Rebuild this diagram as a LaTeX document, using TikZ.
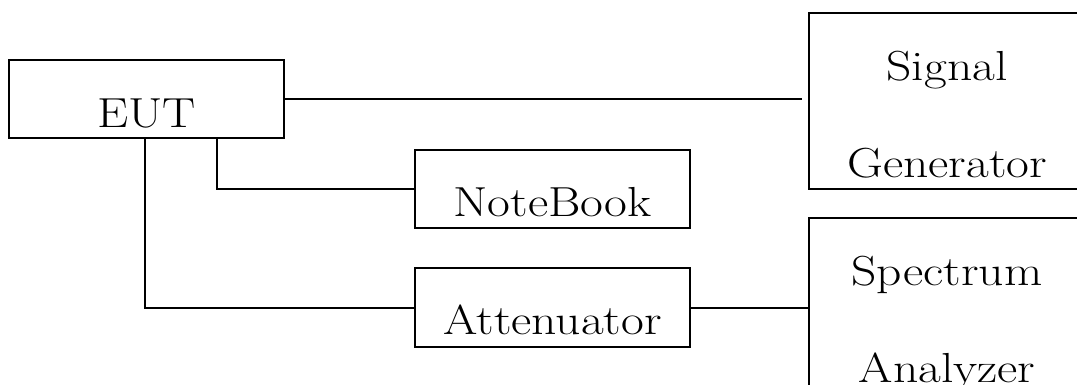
\documentclass[tikz,border=0pt]{standalone}
\usepackage{fontspec}
\setmainfont{Latin Modern Roman}[FakeStretch=1.18]
\usetikzlibrary{calc}
\pgfdeclarelayer{edgelayer}
\pgfdeclarelayer{nodelayer}
\pgfsetlayers{edgelayer,nodelayer,main}
\tikzstyle{box}=[draw, line width=1pt, inner sep=0pt, minimum width=137.5pt, align=center, font=\fontsize{21}{48.5}\selectfont]
\tikzstyle{wire}=[line width=1pt]

\begin{document}
\begin{tikzpicture}[x=0.5pt, y=-0.5pt]
	\useasboundingbox (0,0) rectangle (1077,385);
	\begin{pgfonlayer}{nodelayer}
		\node [style=box, text height=34pt, text depth=5pt] (eut) at (146.5, 99) {EUT};
		\node [style=box, text height=33pt, text depth=6pt] (notebook) at (552.5, 189) {NoteBook};
		\node [style=box, text height=33pt, text depth=6.5pt] (attenuator) at (552.5, 307.5) {Attenuator};
		\node [style=box, minimum width=138pt, text height=82pt, text depth=6pt] (signal) at (947, 101) {Signal\\Generator};
		\node [style=box, minimum width=138pt, text height=82pt, text depth=6pt] (spectrum) at (947, 306) {Spectrum\\Analyzer};
	\end{pgfonlayer}
	\begin{pgfonlayer}{edgelayer}
		\draw [style=wire, shorten >=3pt] (eut.east) to (eut.east -| signal.west);
		\draw [style=wire] ([xshift=35pt]eut.south) |- (notebook.west);
		\draw [style=wire] ([xshift=-0.75pt]eut.south) |- (attenuator.west);
		\draw [style=wire] (attenuator.east) to (attenuator.east -| spectrum.west);
	\end{pgfonlayer}
\end{tikzpicture}
\end{document}
